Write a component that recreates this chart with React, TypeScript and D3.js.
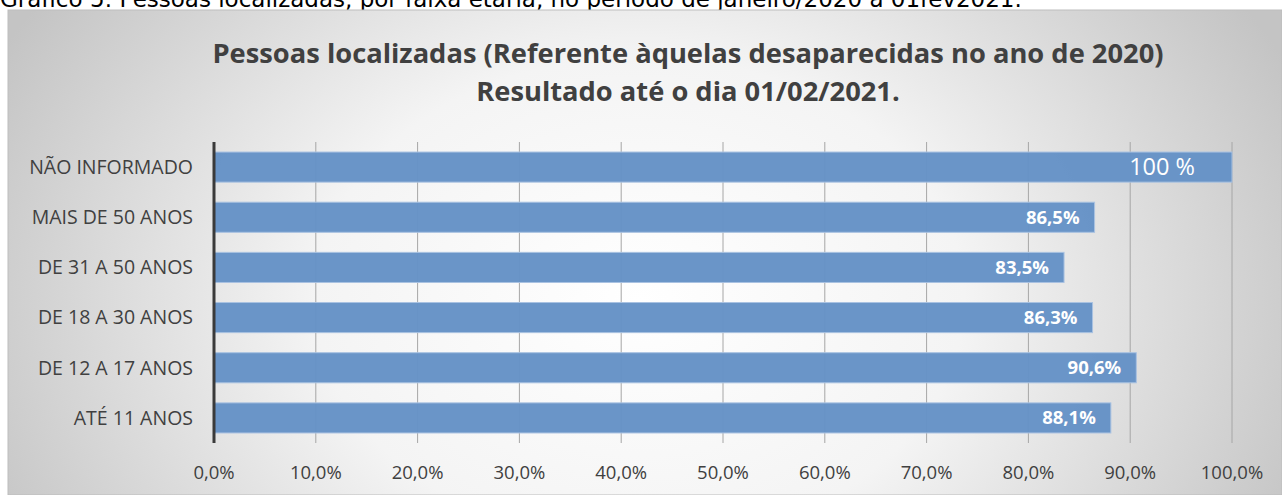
import React, { useRef, useEffect } from 'react';
import * as d3 from 'd3';

const categories = ["NÃO INFORMADO", "MAIS DE 50 ANOS", "DE 31 A 50 ANOS", "DE 18 A 30 ANOS", "DE 12 A 17 ANOS", "ATÉ 11 ANOS"];
const values = [1.0, 0.865, 0.835, 0.863, 0.906, 0.881];
const valueLabels = ["100 %", "86,5%", "83,5%", "86,3%", "90,6%", "88,1%"];
const xTicks = [0, 0.1, 0.2, 0.3, 0.4, 0.5, 0.6, 0.7, 0.8, 0.9, 1.0];
const titleLines = ["Pessoas localizadas (Referente àquelas desaparecidas no ano de 2020)", "Resultado até o dia 01/02/2021."];
const caption = "Gráfico 5: Pessoas localizadas, por faixa etária, no período de janeiro/2020 a 01fev2021.";

const FONT = "'Open Sans', 'DejaVu Sans', sans-serif";

function App() {
  const svgRef = useRef<SVGSVGElement>(null);

  useEffect(() => {
    const svg = d3.select(svgRef.current);
    svg.selectAll("*").remove();

    const width = 1282;
    const height = 495;
    const margin = { top: 142, right: 50, bottom: 52, left: 214 };

    svg.attr("width", width).attr("height", height);

    const defs = svg.append("defs");
    const grad = defs.append("radialGradient")
      .attr("id", "bg")
      .attr("gradientUnits", "userSpaceOnUse")
      .attr("cx", 640).attr("cy", 300).attr("r", 720)
      .attr("gradientTransform", "translate(640,300) scale(1,0.75) translate(-640,-300)");
    grad.append("stop").attr("offset", "0%").attr("stop-color", "#ffffff");
    grad.append("stop").attr("offset", "45%").attr("stop-color", "#f4f4f4");
    grad.append("stop").attr("offset", "100%").attr("stop-color", "#c4c4c4");

    // page caption, its top is cut off by the page edge
    svg.append("text")
      .attr("x", 0)
      .attr("y", 7)
      .style("font-family", "'DejaVu Sans', sans-serif")
      .style("font-size", "23px")
      .attr("fill", "#000")
      .text(caption);

    // chart frame
    svg.append("rect")
      .attr("x", 8).attr("y", 10)
      .attr("width", width - 8).attr("height", height - 10)
      .attr("fill", "url(#bg)")
      .attr("stroke", "#bdbdbd")
      .attr("stroke-width", 1);

    titleLines.forEach((t, i) => {
      svg.append("text")
        .attr("x", 688)
        .attr("y", 63 + i * 38)
        .attr("text-anchor", "middle")
        .style("font-family", FONT)
        .style("font-size", "27.3px")
        .style("font-weight", "bold")
        .attr("fill", "#404040")
        .text(t);
    });

    const x = d3.scaleLinear()
      .domain([0, 1])
      .range([margin.left, 1232]);

    const y = d3.scaleBand()
      .domain(categories)
      .range([margin.top, height - margin.bottom])
      .paddingInner(0.4)
      .paddingOuter(0.2);

    // gridlines
    svg.append("g")
      .selectAll("line")
      .data(xTicks.slice(1))
      .enter()
      .append("line")
      .attr("x1", d => x(d)).attr("x2", d => x(d))
      .attr("y1", margin.top).attr("y2", height - margin.bottom)
      .attr("stroke", "#a6a6a6")
      .attr("stroke-width", 1);

    svg.append("g")
      .selectAll("rect")
      .data(values)
      .enter()
      .append("rect")
      .attr("x", x(0))
      .attr("y", (d, i) => y(categories[i])!)
      .attr("width", d => x(d) - x(0))
      .attr("height", y.bandwidth())
      .attr("fill", "#6592c6")
      .attr("fill-opacity", 0.97)
      .attr("stroke", "#a9c2e2")
      .attr("stroke-width", 1);

    // value labels
    svg.append("g")
      .selectAll("text")
      .data(values)
      .enter()
      .append("text")
      .attr("x", (d, i) => i === 0 ? x(d) - 37 : x(d) - 15)
      .attr("y", (d, i) => y(categories[i])! + y.bandwidth() / 2)
      .attr("dy", "0.35em")
      .attr("text-anchor", "end")
      .style("font-family", FONT)
      .style("font-size", (d, i) => i === 0 ? "23.5px" : "18.5px")
      .style("font-weight", (d, i) => i === 0 ? "normal" : "bold")
      .attr("fill", "#ffffff")
      .text((d, i) => valueLabels[i]);

    // category axis
    svg.append("line")
      .attr("x1", x(0)).attr("x2", x(0))
      .attr("y1", margin.top).attr("y2", height - margin.bottom)
      .attr("stroke", "#3a3a3a")
      .attr("stroke-width", 3);

    svg.append("g")
      .selectAll("text")
      .data(categories)
      .enter()
      .append("text")
      .attr("x", 193)
      .attr("y", d => y(d)! + y.bandwidth() / 2)
      .attr("dy", "0.35em")
      .attr("text-anchor", "end")
      .style("font-family", FONT)
      .style("font-size", "19.5px")
      .attr("fill", "#404040")
      .text(d => d);

    // x tick labels
    const fmt = (v: number) => (v * 100).toFixed(1).replace(".", ",") + "%";
    svg.append("g")
      .selectAll("text")
      .data(xTicks)
      .enter()
      .append("text")
      .attr("x", d => x(d))
      .attr("y", 473)
      .attr("dy", "0.35em")
      .attr("text-anchor", "middle")
      .style("font-family", FONT)
      .style("font-size", "18.5px")
      .attr("fill", "#404040")
      .text(d => fmt(d));
  }, []);

  return <svg ref={svgRef} style={{ position: "absolute", left: 0, top: 0 }}></svg>;
}

export default App;
